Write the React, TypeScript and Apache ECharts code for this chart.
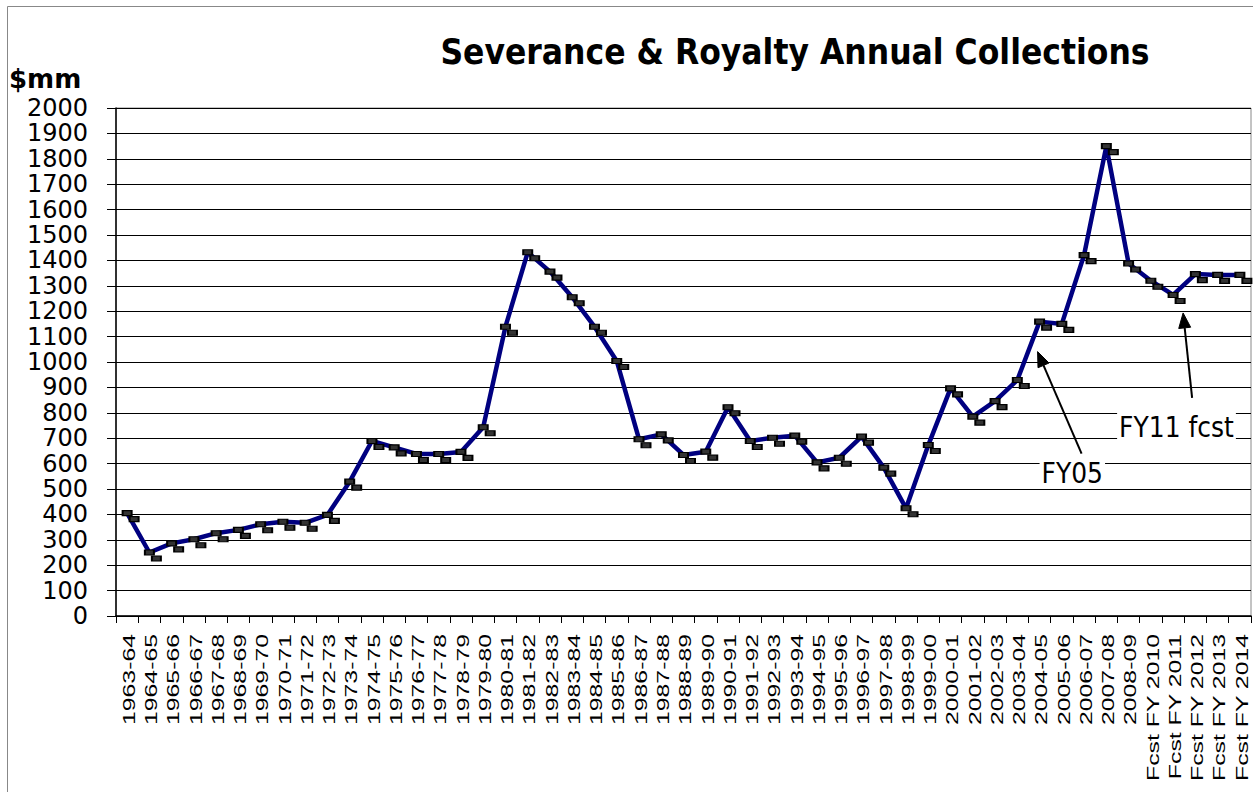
import React, { useEffect, useRef } from "react";
import * as echarts from "echarts";

const TITLE = "Severance & Royalty Annual Collections";
const UNIT_LABEL = "$mm";

const categories = [
  "1963-64", "1964-65", "1965-66", "1966-67", "1967-68", "1968-69", "1969-70",
  "1970-71", "1971-72", "1972-73", "1973-74", "1974-75", "1975-76", "1976-77",
  "1977-78", "1978-79", "1979-80", "1980-81", "1981-82", "1982-83", "1983-84",
  "1984-85", "1985-86", "1986-87", "1987-88", "1988-89", "1989-90", "1990-91",
  "1991-92", "1992-93", "1993-94", "1994-95", "1995-96", "1996-97", "1997-98",
  "1998-99", "1999-00", "2000-01", "2001-02", "2002-03", "2003-04", "2004-05",
  "2005-06", "2006-07", "2007-08", "2008-09",
  "Fcst FY 2010", "Fcst FY 2011", "Fcst FY 2012", "Fcst FY 2013", "Fcst FY 2014",
];

const collections = [
  405, 250, 286, 302, 326, 339, 361, 371, 367, 398,
  529, 689, 664, 638, 638, 646, 743, 1139, 1432, 1356,
  1255, 1139, 1004, 696, 715, 634, 647, 822, 689, 702,
  710, 605, 623, 706, 584, 424, 673, 896, 785, 846,
  929, 1159, 1150, 1421, 1850, 1388, 1320, 1264, 1346, 1343,
  1343,
];

const Y_MIN = 0;
const Y_MAX = 2000;
const Y_STEP = 100;

// annotations: anchored on a category index, offsets in pixels
const annotations = [
  { text: "FY05", index: 41, head: [-2, 30], tail: [42, 132], label: [0, 137] },
  { text: "FY11 fcst", index: 47, head: [10, 18], tail: [19, 103], label: [-56, 118] },
];

const SANS = "'DejaVu Sans', Verdana, sans-serif";
const ARIAL = "'Liberation Sans', Arial, sans-serif";

export default function App() {
  const ref = useRef<HTMLDivElement>(null);

  useEffect(() => {
    const chart = echarts.init(ref.current!, null, { renderer: "svg" });
    const markerStyle = {
      color: "#333",
      borderColor: "#000",
      borderWidth: 1.5,
    };
    chart.setOption({
      animation: false,
      backgroundColor: "#fff",
      grid: {
        left: 116,
        right: 2,
        top: 108,
        bottom: 176,
        show: true,
        borderColor: "#888",
        borderWidth: 1,
        backgroundColor: "transparent",
      },
      xAxis: {
        type: "category",
        data: categories,
        boundaryGap: true,
        axisLine: { lineStyle: { color: "#000", width: 1.5 } },
        axisTick: { show: true, interval: 0, length: 7, lineStyle: { color: "#000", width: 1 } },
        axisLabel: { show: false },
        splitLine: { show: false },
      },
      yAxis: {
        type: "value",
        min: Y_MIN,
        max: Y_MAX,
        interval: Y_STEP,
        axisLine: { show: true, lineStyle: { color: "#000", width: 1.5 } },
        axisTick: { show: true, length: 9, lineStyle: { color: "#000", width: 1 } },
        axisLabel: {
          color: "#000",
          fontFamily: SANS,
          fontSize: 24,
          lineHeight: 24,
          margin: 28,
          formatter: (v: number) => String(v),
        },
        splitLine: { show: true, lineStyle: { color: "#000", width: 1 } },
      },
      series: [
        {
          type: "line",
          data: collections,
          lineStyle: { color: "#000080", width: 4.5 },
          itemStyle: markerStyle,
          symbol: "rect",
          symbolSize: [9, 5],
          showAllSymbol: true,
          z: 3,
        },
        {
          type: "line",
          data: collections,
          lineStyle: { opacity: 0, width: 0 },
          itemStyle: markerStyle,
          symbol: "rect",
          symbolSize: [9, 5],
          symbolOffset: [7, 6],
          showAllSymbol: true,
          z: 4,
        },
      ],
    });

    const px = (i: number, v: number) =>
      chart.convertToPixel({ gridIndex: 0 }, [i, v]) as number[];

    const graphics: any[] = [];
    // outer frame
    graphics.push({
      type: "rect",
      shape: { x: 7.5, y: 6.5, width: 1300, height: 820 },
      style: { fill: "none", stroke: "#888", lineWidth: 1 },
      z: 0,
      silent: true,
    });
    // title
    graphics.push({
      type: "text",
      x: 795,
      y: 70,
      scaleY: 1.15,
      style: {
        text: TITLE,
        font: `bold 31.5px ${SANS}`,
        fill: "#000",
        align: "center",
        textAlign: "center",
        verticalAlign: "bottom",
        textVerticalAlign: "bottom",
      },
      z: 10,
    });
    // unit label
    graphics.push({
      type: "text",
      x: 9,
      y: 92,
      style: {
        text: UNIT_LABEL,
        font: `bold 26px ${SANS}`,
        fill: "#000",
        align: "left",
        textAlign: "left",
        verticalAlign: "bottom",
        textVerticalAlign: "bottom",
      },
      z: 10,
    });
    // x-axis category labels (rotated, stretched along reading direction)
    const baseY = px(0, 0)[1];
    categories.forEach((c, i) => {
      const p = px(i, 0);
      graphics.push({
        type: "text",
        x: p[0] + 2,
        y: baseY + 18,
        rotation: Math.PI / 2,
        scaleX: 1.55,
        style: {
          text: c,
          font: `16px ${ARIAL}`,
          fill: "#000",
          align: "right",
          textAlign: "right",
          verticalAlign: "middle",
          textVerticalAlign: "middle",
        },
        z: 10,
      });
    });
    // annotations with arrows
    annotations.forEach((a) => {
      const p = px(a.index, collections[a.index]);
      const hx = p[0] + a.head[0];
      const hy = p[1] + a.head[1];
      const tx = p[0] + a.tail[0];
      const ty = p[1] + a.tail[1];
      const dx = hx - tx;
      const dy = hy - ty;
      const len = Math.sqrt(dx * dx + dy * dy);
      const ux = dx / len;
      const uy = dy / len;
      const bx = hx - ux * 15;
      const by = hy - uy * 15;
      const nx = -uy;
      const ny = ux;
      graphics.push({
        type: "line",
        shape: { x1: tx, y1: ty, x2: bx, y2: by },
        style: { stroke: "#000", lineWidth: 2 },
        z: 12,
      });
      graphics.push({
        type: "polygon",
        shape: {
          points: [
            [hx, hy],
            [bx + nx * 6, by + ny * 6],
            [bx - nx * 6, by - ny * 6],
          ],
        },
        style: { fill: "#000", stroke: "#000", lineWidth: 1 },
        z: 12,
      });
      graphics.push({
        type: "text",
        x: p[0] + a.label[0],
        y: p[1] + a.label[1],
        scaleY: 1.15,
        style: {
          text: a.text,
          font: `25px ${SANS}`,
          fill: "#000",
          align: "left",
          textAlign: "left",
          verticalAlign: "top",
          textVerticalAlign: "top",
          backgroundColor: "#fff",
          padding: [0, 2, 0, 2],
        },
        z: 11,
      });
    });

    chart.setOption({ graphic: graphics });

    return () => {
      chart.dispose();
    };
  }, []);

  return (
    <div
      ref={ref}
      style={{
        position: "fixed",
        left: 0,
        top: 0,
        width: 1253,
        height: 792,
        background: "#fff",
      }}
    />
  );
}
